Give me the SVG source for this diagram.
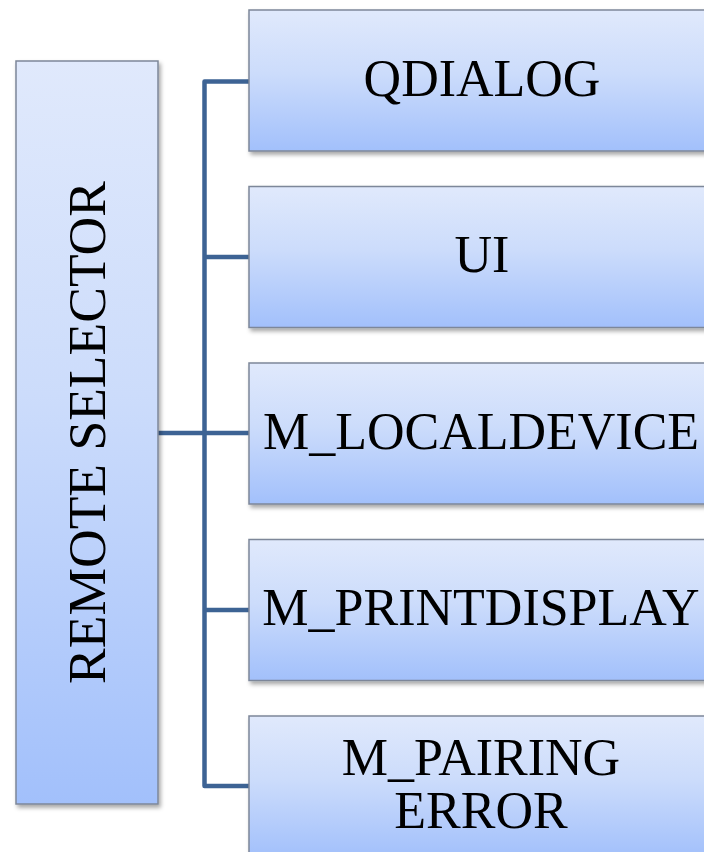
<svg xmlns="http://www.w3.org/2000/svg" width="704" height="852" viewBox="0 0 704 852">
<defs>
<linearGradient id="g" x1="0" y1="0" x2="0" y2="1">
<stop offset="0" stop-color="#e0e9fc"/>
<stop offset="0.45" stop-color="#ccdcfb"/>
<stop offset="1" stop-color="#a2c0fb"/>
</linearGradient>
<filter id="sh" x="-10%" y="-10%" width="130%" height="130%">
<feDropShadow dx="2" dy="3" stdDeviation="2" flood-color="#000" flood-opacity="0.35"/>
</filter>
<style>
.box{fill:url(#g);stroke:#7d8799;stroke-width:1.5;filter:url(#sh)}
.t{font-family:"Liberation Serif","Times New Roman",serif;font-size:52px;fill:#000;text-anchor:middle}
.c{fill:none;stroke:#3d6394;stroke-width:4.5;stroke-linejoin:round}
</style>
</defs>
<rect width="704" height="852" fill="#fff"/>
<g id="connectors">
<path class="c" d="M249 81.5 H204.5 V786 H249"/>
<path class="c" d="M204.5 257 H249 M158 433 H249 M204.5 610 H249"/>
</g>
<g id="remote-selector">
<rect class="box" x="16" y="61" width="142" height="743"/>
<text class="t" style="font-size:53.5px" transform="translate(105,432.5) rotate(-90)">REMOTE SELECTOR</text>
</g>
<g id="qdialog">
<rect class="box" x="249" y="10" width="470" height="141"/>
<text class="t" x="482" y="95.5">QDIALOG</text>
</g>
<g id="ui">
<rect class="box" x="249" y="186.5" width="470" height="141"/>
<text class="t" x="482" y="272">UI</text>
</g>
<g id="m-localdevice">
<rect class="box" x="249" y="363" width="470" height="141"/>
<text class="t" x="481" y="448.5">M_LOCALDEVICE</text>
</g>
<g id="m-printdisplay">
<rect class="box" x="249" y="539.5" width="470" height="141"/>
<text class="t" x="481" y="625">M_PRINTDISPLAY</text>
</g>
<g id="m-pairing-error">
<rect class="box" x="249" y="716" width="470" height="141"/>
<text class="t" x="481" y="775">M_PAIRING</text>
<text class="t" x="481" y="828">ERROR</text>
</g>
</svg>
